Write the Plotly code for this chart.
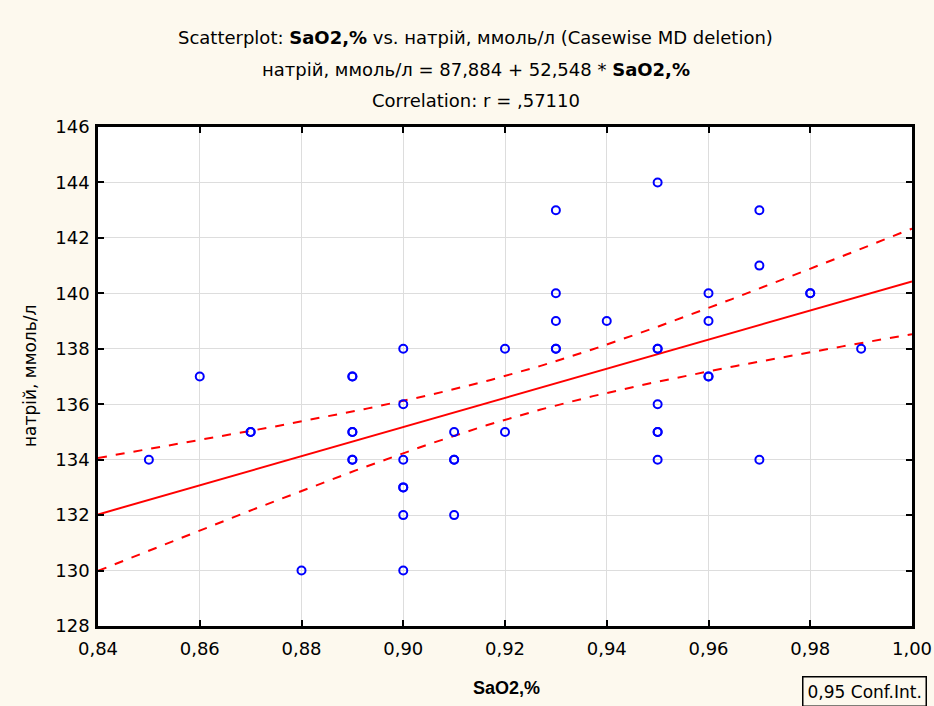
import numpy as np
import plotly.graph_objects as go

# Data
sao2 = [0.85, 0.86, 0.87, 0.87, 0.88,
        0.89, 0.89, 0.89, 0.89, 0.89, 0.89,
        0.90, 0.90, 0.90, 0.90, 0.90, 0.90, 0.90,
        0.91, 0.91, 0.91, 0.91,
        0.92, 0.92,
        0.93, 0.93, 0.93, 0.93, 0.93,
        0.94,
        0.95, 0.95, 0.95, 0.95, 0.95, 0.95, 0.95,
        0.96, 0.96, 0.96, 0.96,
        0.97, 0.97, 0.97,
        0.98, 0.98,
        0.99]
natrii = [134, 137, 135, 135, 130,
          137, 137, 135, 135, 134, 134,
          138, 136, 134, 133, 133, 132, 130,
          135, 134, 134, 132,
          138, 135,
          143, 140, 139, 138, 138,
          139,
          144, 138, 138, 136, 135, 135, 134,
          140, 139, 137, 137,
          143, 141, 134,
          140, 140,
          138]

intercept = 87.884
slope = 52.548
conf_level_t = 2.01  # t critical for 0.95 conf.int.

x_ticks = [0.84, 0.86, 0.88, 0.90, 0.92, 0.94, 0.96, 0.98, 1.00]
x_tick_labels = ["0,84", "0,86", "0,88", "0,90", "0,92", "0,94", "0,96", "0,98", "1,00"]
y_ticks = [128, 130, 132, 134, 136, 138, 140, 142, 144, 146]

title_lines = [
    "Scatterplot: <b>SaO2,%</b> vs. натрій, ммоль/л (Casewise MD deletion)",
    "натрій, ммоль/л = 87,884 + 52,548 * <b>SaO2,%</b>",
    "Correlation: r = ,57110",
]
x_title = "<b>SaO2,%</b>"
y_title = "натрій, ммоль/л"
legend_text = "0,95 Conf.Int."

x = np.array(sao2)
y = np.array(natrii)
n = len(x)
resid = y - (intercept + slope * x)
s = np.sqrt(np.sum(resid ** 2) / (n - 2))
xbar = x.mean()
sxx = np.sum((x - xbar) ** 2)

xs = np.linspace(0.84, 1.00, 200)
yfit = intercept + slope * xs
hw = conf_level_t * s * np.sqrt(1.0 / n + (xs - xbar) ** 2 / sxx)

FONT = "DejaVu Sans"
BOLD_FONT = "Liberation Sans"
BG = "#fdf9ee"

fig = go.Figure()
fig.add_trace(go.Scatter(x=xs, y=yfit + hw, mode="lines",
                         line=dict(color="#ff0000", width=2, dash="dash"),
                         hoverinfo="skip", showlegend=False))
fig.add_trace(go.Scatter(x=xs, y=yfit - hw, mode="lines",
                         line=dict(color="#ff0000", width=2, dash="dash"),
                         hoverinfo="skip", showlegend=False))
fig.add_trace(go.Scatter(x=xs, y=yfit, mode="lines",
                         line=dict(color="#ff0000", width=2),
                         hoverinfo="skip", showlegend=False))
fig.add_trace(go.Scatter(x=sao2, y=natrii, mode="markers",
                         marker=dict(symbol="circle-open", size=8, color="#0000ff",
                                     line=dict(width=2, color="#0000ff")),
                         showlegend=False))

axis_common = dict(showline=True, linecolor="black", linewidth=2.5, mirror="ticks",
                   ticks="inside", ticklen=6, tickcolor="black", tickwidth=2,
                   showgrid=True, gridcolor="#dddddd", gridwidth=1, zeroline=False,
                   automargin=False,
                   tickfont=dict(family=FONT, size=18, color="black"))

annotations = []
for line, ypos in zip(title_lines, [1.180, 1.116, 1.054]):
    annotations.append(dict(text=line, xref="paper", yref="paper", x=0.464, y=ypos,
                            xanchor="center", yanchor="middle", showarrow=False,
                            font=dict(family=FONT, size=18, color="black")))
annotations.append(dict(text=x_title, xref="paper", yref="paper", x=(506 - 98) / 814,
                        y=(626 - 688) / 499, xanchor="center", yanchor="middle",
                        showarrow=False, font=dict(family=BOLD_FONT, size=18, color="black")))
annotations.append(dict(text=y_title, xref="paper", yref="paper", x=(30 - 98) / 814,
                        y=(626 - 376) / 499, xanchor="center", yanchor="middle",
                        textangle=-90, showarrow=False,
                        font=dict(family=FONT, size=17, color="black")))
annotations.append(dict(text=legend_text, xref="paper", yref="paper",
                        x=(802 - 98) / 814, y=(626 - 676) / 499,
                        xanchor="left", yanchor="top", showarrow=False,
                        bordercolor="black", borderwidth=1.5, borderpad=4,
                        bgcolor=BG,
                        font=dict(family=FONT, size=17, color="black")))

fig.update_layout(
    width=934, height=706,
    paper_bgcolor=BG, plot_bgcolor="white",
    margin=dict(l=98, r=22, t=127, b=80),
    xaxis=dict(range=[0.84, 1.00], tickvals=x_ticks, ticktext=x_tick_labels,
               ticklabelstandoff=5, **axis_common),
    yaxis=dict(range=[128, 146], tickvals=y_ticks, ticklabelstandoff=2, **axis_common),
    annotations=annotations,
)

fig.write_html(
    "out.html",
    config={"displayModeBar": False},
    post_script="document.body.style.margin='0';document.body.style.background='%s';"
                "document.body.style.overflow='hidden';" % BG,
)
